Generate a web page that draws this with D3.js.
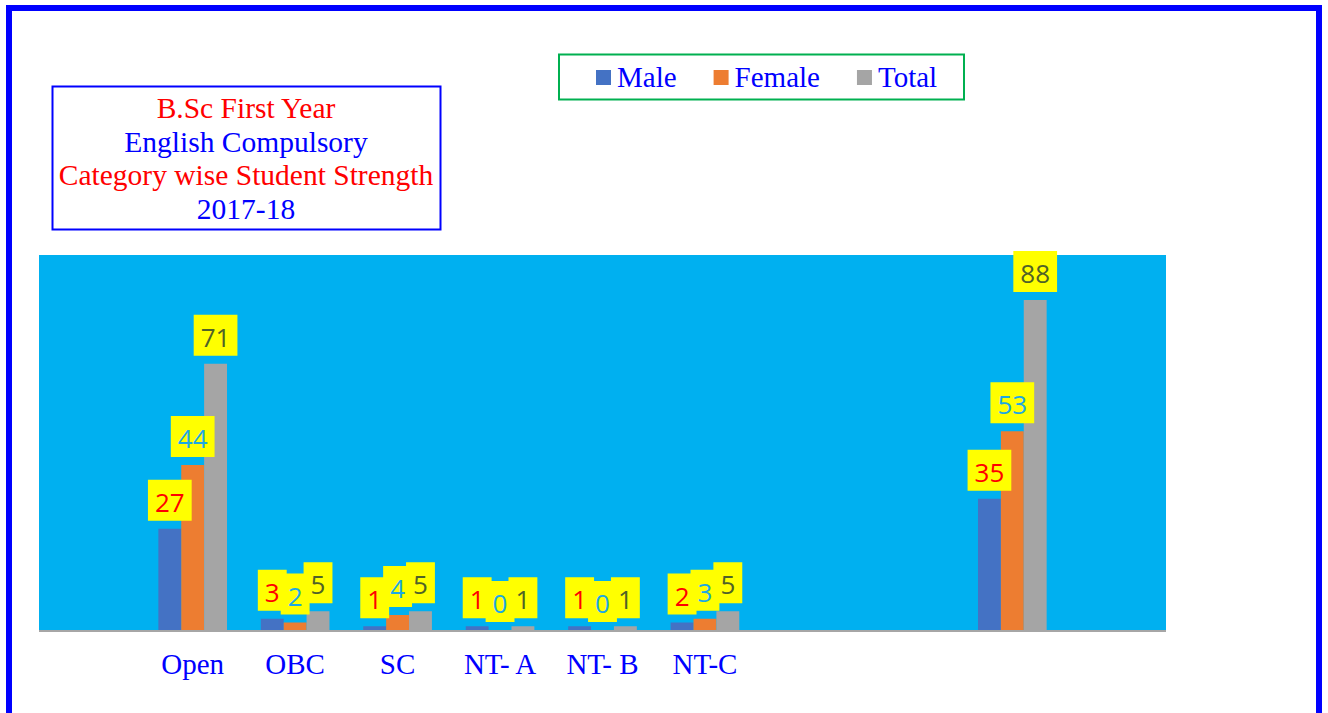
<!DOCTYPE html>
<html>
<head>
<meta charset="utf-8">
<script src="https://cdn.jsdelivr.net/npm/d3@7/dist/d3.min.js"></script>
<style>
	body { margin: 0; padding: 0; background: #fff; overflow: hidden; }
	#chart { width: 1328px; height: 713px; }
</style>
</head>
<body>
<div id="chart"></div>
<script>
'use strict';

// categories (blank slots are empty columns of the original sheet)
var categories = ['', 'Open', 'OBC', 'SC', 'NT- A', 'NT- B', 'NT-C', '', '', '', ''];
var series = ['Male', 'Female', 'Total'];
var male = [null, 27, 3, 1, 1, 1, 2, null, null, 35, null];
var female = [null, 44, 2, 4, 0, 0, 3, null, null, 53, null];
var total = [null, 71, 5, 5, 1, 1, 5, null, null, 88, null];
var titleLines = ['B.Sc First Year', 'English Compulsory', 'Category wise Student Strength', '2017-18'];

var colors = { Male: '#4472C4', Female: '#ED7D31', Total: '#A5A5A5' };
var labelColors = { Male: '#FF0000', Female: '#1CA8E3', Total: '#4F6228' };
var titleColors = ['#FF0000', '#0000FF', '#FF0000', '#0000FF'];

function chart ()	{
	var width = 1328, height = 713;
	var plot = { left: 39, right: 1166, top: 255, bottom: 630 };
	var serif = '"Liberation Serif", "Times New Roman", serif';

	var svg = d3.select('#chart').append('svg')
						.attr('width', width)
						.attr('height', height);

	// outer frame
	svg.append('rect')
		 .attr('x', 9).attr('y', 8)
		 .attr('width', 1310).attr('height', 740)
		 .attr('fill', 'none')
		 .attr('stroke', '#0000FF')
		 .attr('stroke-width', 6);

	// plot background
	svg.append('rect')
		 .attr('x', plot.left).attr('y', plot.top)
		 .attr('width', plot.right - plot.left)
		 .attr('height', plot.bottom - plot.top)
		 .attr('fill', '#00B0F0');

	var x0 = d3.scaleBand()
						 .domain(d3.range(categories.length))
						 .range([plot.left, plot.right])
						 .padding(0);
	var groupWidth = x0.bandwidth() * 0.67;
	var x1 = d3.scaleBand().domain(series).range([0, groupWidth]);
	var y = d3.scaleLinear().domain([0, 100]).range([plot.bottom, plot.top]);

	var values = { Male: male, Female: female, Total: total };
	var rows = [];
	categories.forEach(function (c, i)	{
		series.forEach(function (s)	{
			if (values[s][i] !== null)	{
				rows.push({ i: i, s: s, v: values[s][i] });
			}
		});
	});

	function barX (d)	{
		return x0(d.i) + (x0.bandwidth() - groupWidth) / 2 + x1(d.s);
	}

	svg.append('g').selectAll('rect')
		 .data(rows)
		 .enter().append('rect')
		 .attr('x', barX)
		 .attr('y', function (d) { return y(d.v); })
		 .attr('width', x1.bandwidth())
		 .attr('height', function (d) { return y(0) - y(d.v); })
		 .attr('fill', function (d) { return colors[d.s]; });

	// x axis
	var axis = svg.append('g')
								.attr('transform', 'translate(0,' + plot.bottom + ')')
								.call(d3.axisBottom(x0).tickSize(0)
									.tickFormat(function (i) { return categories[i]; }));
	axis.select('.domain')
			.attr('stroke', '#A6A6A6')
			.attr('stroke-width', 2)
			.attr('d', 'M' + plot.left + ',1H' + plot.right);
	axis.selectAll('text')
			.attr('y', 44).attr('dy', 0)
			.attr('fill', '#0000FF')
			.style('font-family', serif)
			.style('font-size', '29px');

	// data labels
	var labels = svg.append('g');
	rows.forEach(function (d)	{
		var cx = barX(d) + x1.bandwidth() / 2;
		var top = y(d.v);
		var g = labels.append('g');
		var box = g.append('rect').attr('fill', '#FFFF00');
		var t = g.append('text')
						 .attr('x', cx)
						 .attr('y', top - 17)
						 .attr('text-anchor', 'middle')
						 .attr('fill', labelColors[d.s])
						 .style('font-family', '"Open Sans", sans-serif')
						 .style('font-size', '26px')
						 .text(d.v);
		var w = t.node().getComputedTextLength() + 14;
		box.attr('x', cx - w / 2).attr('y', top - 49)
			 .attr('width', w).attr('height', 41);
	});

	// title box
	svg.append('rect')
		 .attr('x', 52.5).attr('y', 86.5)
		 .attr('width', 388).attr('height', 143)
		 .attr('fill', '#fff')
		 .attr('stroke', '#0000FF')
		 .attr('stroke-width', 2);
	svg.append('g').selectAll('text')
		 .data(titleLines)
		 .enter().append('text')
		 .attr('x', 246)
		 .attr('y', function (d, i) { return 118 + i * 33.7; })
		 .attr('text-anchor', 'middle')
		 .attr('fill', function (d, i) { return titleColors[i]; })
		 .style('font-family', serif)
		 .style('font-size', '29.5px')
		 .text(function (d) { return d; });

	// legend
	svg.append('rect')
		 .attr('x', 559).attr('y', 54.5)
		 .attr('width', 405).attr('height', 45)
		 .attr('fill', '#fff')
		 .attr('stroke', '#00B050')
		 .attr('stroke-width', 2);
	var lx = 596;
	series.forEach(function (s)	{
		svg.append('rect')
			 .attr('x', lx).attr('y', 70)
			 .attr('width', 15).attr('height', 15)
			 .attr('fill', colors[s]);
		var t = svg.append('text')
							 .attr('x', lx + 21).attr('y', 87)
							 .attr('fill', '#0000FF')
							 .style('font-family', serif)
							 .style('font-size', '29px')
							 .text(s);
		lx += 21 + t.node().getComputedTextLength() + 37;
	});
}

chart();
</script>
</body>
</html>
